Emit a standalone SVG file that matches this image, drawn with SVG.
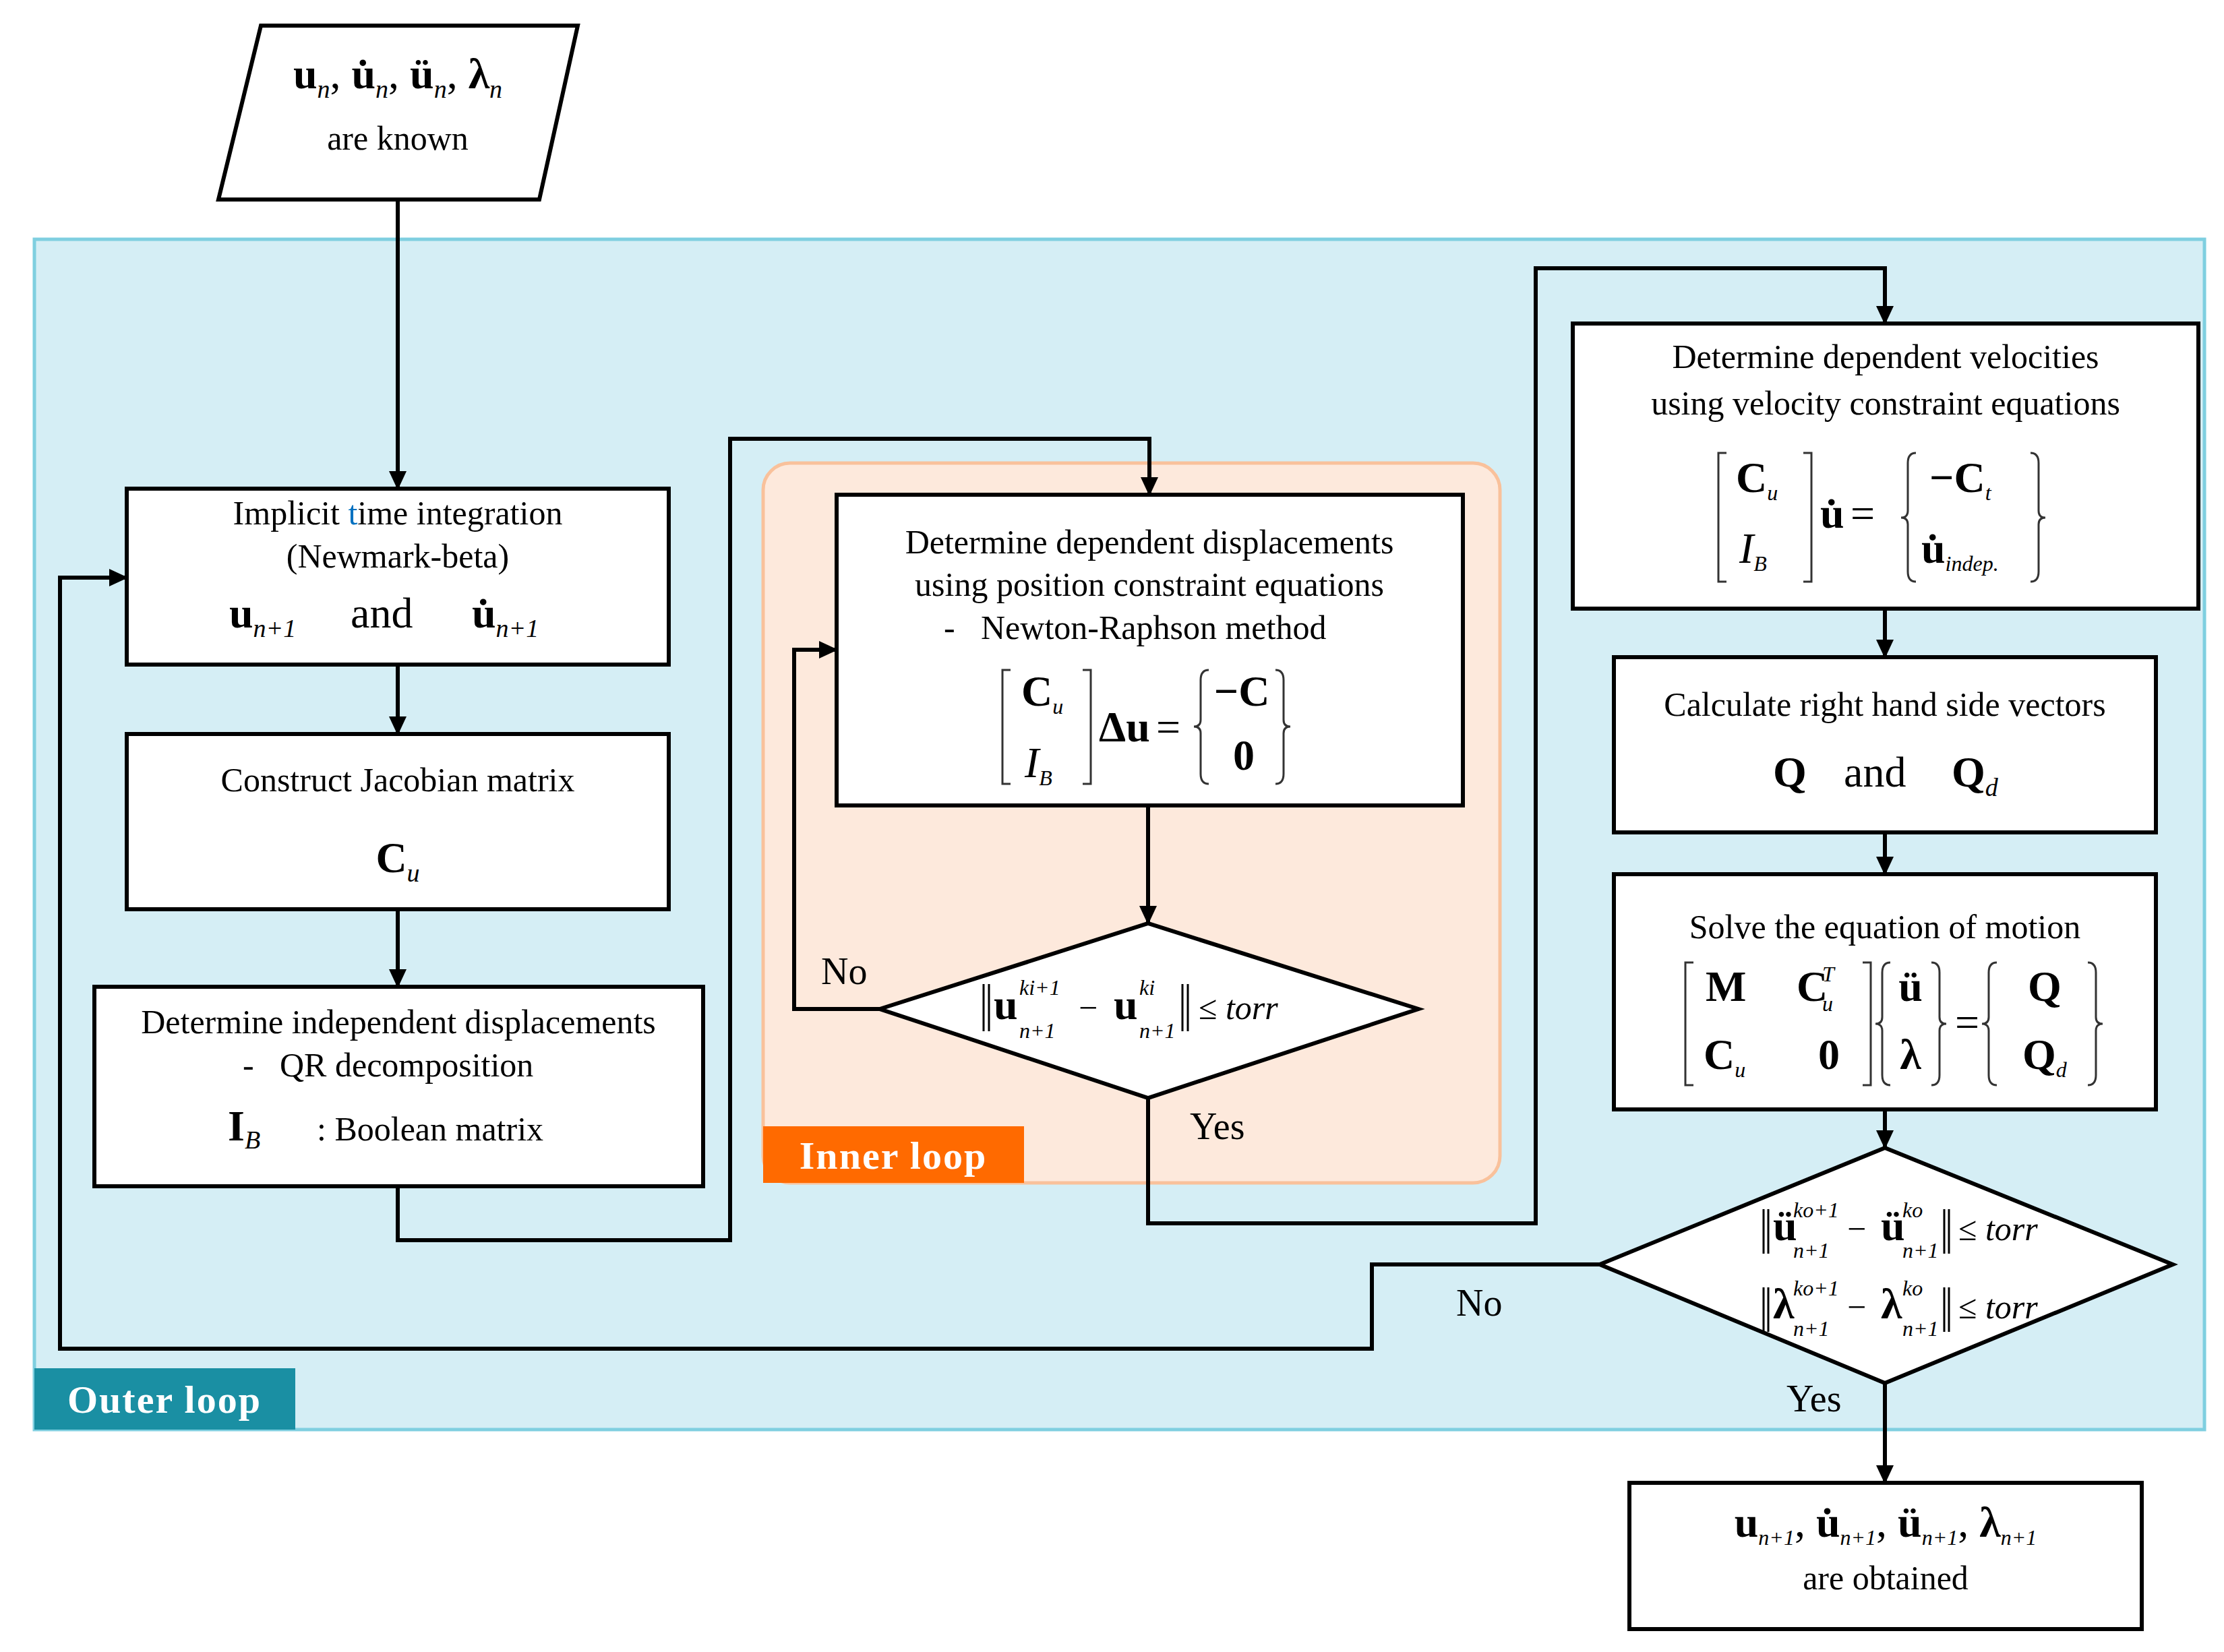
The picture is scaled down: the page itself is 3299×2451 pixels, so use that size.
<svg xmlns="http://www.w3.org/2000/svg" width="3299" height="2451" viewBox="0 0 3299 2451">
<style>
.t{font-family:"Liberation Serif","Times New Roman","DejaVu Serif",serif;font-size:50px;fill:#000}
.m{font-family:"Liberation Serif","Times New Roman","DejaVu Serif",serif;font-size:64px;font-weight:bold;fill:#000}
.mn{font-family:"Liberation Serif","Times New Roman","DejaVu Serif",serif;font-size:64px;font-weight:normal;fill:#000}
.s{font-family:"Liberation Serif","Times New Roman","DejaVu Serif",serif;font-size:38px;font-style:italic;font-weight:normal;fill:#000}
.ss{font-family:"Liberation Serif","Times New Roman","DejaVu Serif",serif;font-size:32px;font-style:italic;font-weight:normal;fill:#000}
.box{fill:#fff;stroke:#000;stroke-width:6}
.conn{fill:none;stroke:#000;stroke-width:6;marker-end:url(#ah)}
.br{fill:none;stroke:#333;stroke-width:3}
.nb{fill:none;stroke:#000;stroke-width:3}
.lbl{font-family:"Liberation Serif","Times New Roman","DejaVu Serif",serif;font-size:56px;fill:#000}
.tag{font-family:"Liberation Serif","Times New Roman","DejaVu Serif",serif;font-size:58px;font-weight:bold;fill:#fff;letter-spacing:2px}
</style>
<defs>
<marker id="ah" markerUnits="userSpaceOnUse" markerWidth="28" markerHeight="26" refX="26" refY="13" orient="auto">
<path d="M0,0 L28,13 L0,26 Z" fill="#000"/>
</marker>
</defs>
<rect width="3299" height="2451" fill="#fff"/>
<g id="outer-loop">
<rect x="51" y="355" width="3219" height="1766" fill="#d5eef5" stroke="#7fcfe0" stroke-width="5"/>
<rect x="51" y="2030" width="387" height="91" fill="#1a8fa3"/>
<text class="tag" x="244" y="2096" text-anchor="middle">Outer loop</text>
</g>
<g id="inner-loop">
<rect x="1132" y="687" width="1093" height="1068" rx="40" fill="#fde9dc" stroke="#f9c19b" stroke-width="5"/>
<rect x="1132" y="1671" width="387" height="84" fill="#ff6a00"/>
<text class="tag" x="1325" y="1734" text-anchor="middle">Inner loop</text>
</g>
<g id="connectors">
<path class="conn" d="M590,296 V725"/>
<path class="conn" d="M590,986 V1089"/>
<path class="conn" d="M590,1349 V1464"/>
<path class="conn" d="M590,1760 V1840 H1083 V651 H1705 V734"/>
<path class="conn" d="M1703,1195 V1370"/>
<path class="conn" d="M1305,1497 H1178 V964 H1241"/>
<path class="conn" d="M1703,1629 V1815 H2278 V398 H2796 V480"/>
<path class="conn" d="M2796,903 V975"/>
<path class="conn" d="M2796,1235 V1297"/>
<path class="conn" d="M2796,1646 V1703"/>
<path class="conn" d="M2373,1876 H2035 V2001 H89 V857 H188"/>
<path class="conn" d="M2796,2052 V2200"/>
<text class="lbl" x="1218" y="1460">No</text>
<text class="lbl" x="1765" y="1690">Yes</text>
<text class="lbl" x="2160" y="1952">No</text>
<text class="lbl" x="2650" y="2094">Yes</text>
</g>
<g id="start">
<polygon class="box" points="387,38 857,38 800,296 324,296"/>
<text class="m" x="590" y="131" text-anchor="middle">u<tspan class="s" dy="14">n</tspan><tspan class="mn" dy="-14">, </tspan>u̇<tspan class="s" dy="14">n</tspan><tspan class="mn" dy="-14">, </tspan>ü<tspan class="s" dy="14">n</tspan><tspan class="mn" dy="-14">, </tspan>λ<tspan class="s" dy="14">n</tspan></text>
<text class="t" x="590" y="222" text-anchor="middle">are known</text>
</g>
<g id="implicit">
<rect class="box" x="188" y="725" width="804" height="261"/>
<text class="t" x="590" y="778" text-anchor="middle">Implicit <tspan fill="#0070c0">t</tspan>ime integration</text>
<text class="t" x="590" y="842" text-anchor="middle">(Newmark-beta)</text>
<text class="m" x="340" y="931" font-size="72">u<tspan class="s" font-size="42" dy="14">n+1</tspan></text>
<text class="mn" x="520" y="931" font-size="72">and</text>
<text class="m" x="700" y="931" font-size="72">u̇<tspan class="s" font-size="42" dy="14">n+1</tspan></text>
</g>
<g id="jacobian">
<rect class="box" x="188" y="1089" width="804" height="260"/>
<text class="t" x="590" y="1174" text-anchor="middle">Construct Jacobian matrix</text>
<text class="m" x="590" y="1294" text-anchor="middle" font-size="72">C<tspan class="s" dy="14">u</tspan></text>
</g>
<g id="independent">
<rect class="box" x="140" y="1464" width="903" height="296"/>
<text class="t" x="591" y="1533" text-anchor="middle">Determine independent displacements</text>
<text class="t" x="360" y="1597">-</text>
<text class="t" x="415" y="1597">QR decomposition</text>
<text class="m" x="338" y="1692" font-size="56">I<tspan class="s" dy="12">B</tspan></text>
<text class="t" x="470" y="1692">: Boolean matrix</text>
</g>
<g id="dep-disp">
<rect class="box" x="1241" y="734" width="929" height="461"/>
<text class="t" x="1705" y="821" text-anchor="middle">Determine dependent displacements</text>
<text class="t" x="1705" y="884" text-anchor="middle">using position constraint equations</text>
<text class="t" x="1400" y="948">-</text>
<text class="t" x="1455" y="948">Newton-Raphson method</text>
<path class="br" d="M1499,994 H1487 V1163 H1499 M1606,994 H1618 V1163 H1606"/>
<text class="m" x="1515" y="1047" font-size="56">C<tspan class="ss" dy="12">u</tspan></text>
<text class="mn" x="1520" y="1153" font-size="56" font-style="italic">I<tspan class="ss" dy="12">B</tspan></text>
<text class="m" x="1630" y="1100" font-size="56">Δu</text>
<text class="mn" x="1715" y="1100" font-size="56">=</text>
<path class="br" d="M1793,994 Q1781,994 1781,1009 V1068 Q1781,1078 1771,1078 Q1781,1078 1781,1088 V1148 Q1781,1163 1793,1163 M1892,994 Q1904,994 1904,1009 V1068 Q1904,1078 1914,1078 Q1904,1078 1904,1088 V1148 Q1904,1163 1892,1163"/>
<text class="m" x="1842" y="1047" font-size="56" text-anchor="middle">−C</text>
<text class="m" x="1845" y="1142" font-size="56" text-anchor="middle">0</text>
</g>
<g id="check-inner">
<polygon class="box" points="1305,1497 1703,1370 2104,1497 1703,1629"/>
<path class="nb" d="M1459,1460 V1530 M1467,1460 V1530 M1754,1460 V1530 M1762,1460 V1530"/>
<text class="m" x="1474" y="1512" font-size="52">u</text>
<text class="ss" x="1512" y="1476" font-size="30">ki+1</text>
<text class="ss" x="1512" y="1540" font-size="30">n+1</text>
<text class="t" x="1600" y="1512">−</text>
<text class="m" x="1652" y="1512" font-size="52">u</text>
<text class="ss" x="1690" y="1476" font-size="30">ki</text>
<text class="ss" x="1690" y="1540" font-size="30">n+1</text>
<text class="t" x="1778" y="1512">≤ <tspan font-style="italic">torr</tspan></text>
</g>
<g id="dep-vel">
<rect class="box" x="2333" y="480" width="928" height="423"/>
<text class="t" x="2797" y="546" text-anchor="middle">Determine dependent velocities</text>
<text class="t" x="2797" y="615" text-anchor="middle">using velocity constraint equations</text>
<path class="br" d="M2561,672 H2549 V863 H2561 M2675,672 H2687 V863 H2675"/>
<text class="m" x="2575" y="730" font-size="56">C<tspan class="ss" dy="12">u</tspan></text>
<text class="mn" x="2580" y="835" font-size="56" font-style="italic">I<tspan class="ss" dy="12">B</tspan></text>
<text class="m" x="2700" y="783" font-size="56">u̇</text>
<text class="mn" x="2745" y="783" font-size="56">=</text>
<path class="br" d="M2842,672 Q2830,672 2830,687 V758 Q2830,768 2820,768 Q2830,768 2830,778 V848 Q2830,863 2842,863 M3012,672 Q3024,672 3024,687 V758 Q3024,768 3034,768 Q3024,768 3024,778 V848 Q3024,863 3012,863"/>
<text class="m" x="2862" y="730" font-size="56">−C<tspan class="ss" dy="12">t</tspan></text>
<text class="m" x="2850" y="835" font-size="56">u̇<tspan class="ss" dy="12">indep.</tspan></text>
</g>
<g id="rhs">
<rect class="box" x="2394" y="975" width="804" height="260"/>
<text class="t" x="2796" y="1062" text-anchor="middle">Calculate right hand side vectors</text>
<text class="m" x="2630" y="1167" font-size="70">Q</text>
<text class="mn" x="2735" y="1167" font-size="70">and</text>
<text class="m" x="2895" y="1167" font-size="70">Q<tspan class="s" dy="14">d</tspan></text>
</g>
<g id="solve">
<rect class="box" x="2394" y="1297" width="804" height="349"/>
<text class="t" x="2796" y="1392" text-anchor="middle">Solve the equation of motion</text>
<path class="br" d="M2512,1428 H2500 V1610 H2512 M2763,1428 H2775 V1610 H2763"/>
<text class="m" x="2530" y="1485" font-size="56">M</text>
<text class="m" x="2665" y="1485" font-size="56">C</text>
<text class="ss" x="2703" y="1456">T</text>
<text class="ss" x="2703" y="1500">u</text>
<text class="m" x="2527" y="1586" font-size="56">C<tspan class="ss" dy="12">u</tspan></text>
<text class="m" x="2697" y="1586" font-size="56">0</text>
<path class="br" d="M2804,1428 Q2792,1428 2792,1443 V1509 Q2792,1519 2782,1519 Q2792,1519 2792,1529 V1595 Q2792,1610 2804,1610 M2865,1428 Q2877,1428 2877,1443 V1509 Q2877,1519 2887,1519 Q2877,1519 2877,1529 V1595 Q2877,1610 2865,1610"/>
<text class="m" x="2834" y="1485" font-size="56" text-anchor="middle">ü</text>
<text class="m" x="2834" y="1586" font-size="56" text-anchor="middle">λ</text>
<text class="mn" x="2900" y="1538" font-size="60">=</text>
<path class="br" d="M2962,1428 Q2950,1428 2950,1443 V1509 Q2950,1519 2940,1519 Q2950,1519 2950,1529 V1595 Q2950,1610 2962,1610 M3097,1428 Q3109,1428 3109,1443 V1509 Q3109,1519 3119,1519 Q3109,1519 3109,1529 V1595 Q3109,1610 3097,1610"/>
<text class="m" x="3008" y="1485" font-size="56">Q</text>
<text class="m" x="3000" y="1586" font-size="56">Q<tspan class="ss" dy="12">d</tspan></text>
</g>
<g id="check-outer">
<polygon class="box" points="2373,1876 2796,1703 3223,1876 2796,2052"/>
<path class="nb" d="M2616,1794 V1860 M2623,1794 V1860 M2884,1794 V1860 M2891,1794 V1860 M2616,1910 V1976 M2623,1910 V1976 M2884,1910 V1976 M2891,1910 V1976"/>
<text class="m" x="2630" y="1840" font-size="50">ü</text>
<text class="ss" x="2660" y="1806" font-size="26">ko+1</text>
<text class="ss" x="2660" y="1866" font-size="26">n+1</text>
<text class="t" x="2740" y="1840">−</text>
<text class="m" x="2790" y="1840" font-size="50">ü</text>
<text class="ss" x="2822" y="1806" font-size="26">ko</text>
<text class="ss" x="2822" y="1866" font-size="26">n+1</text>
<text class="t" x="2905" y="1840">≤ <tspan font-style="italic">torr</tspan></text>
<text class="m" x="2630" y="1956" font-size="50">λ</text>
<text class="ss" x="2660" y="1922" font-size="26">ko+1</text>
<text class="ss" x="2660" y="1982" font-size="26">n+1</text>
<text class="t" x="2740" y="1956">−</text>
<text class="m" x="2790" y="1956" font-size="50">λ</text>
<text class="ss" x="2822" y="1922" font-size="26">ko</text>
<text class="ss" x="2822" y="1982" font-size="26">n+1</text>
<text class="t" x="2905" y="1956">≤ <tspan font-style="italic">torr</tspan></text>
</g>
<g id="result">
<rect class="box" x="2417" y="2200" width="760" height="217"/>
<text class="m" x="2797" y="2280" font-size="54" text-anchor="middle">u<tspan class="ss" dy="12">n+1</tspan><tspan class="mn" font-size="54" dy="-12">, </tspan>u̇<tspan class="ss" dy="12">n+1</tspan><tspan class="mn" font-size="54" dy="-12">, </tspan>ü<tspan class="ss" dy="12">n+1</tspan><tspan class="mn" font-size="54" dy="-12">, </tspan>λ<tspan class="ss" dy="12">n+1</tspan></text>
<text class="t" x="2797" y="2358" text-anchor="middle">are obtained</text>
</g>
</svg>
